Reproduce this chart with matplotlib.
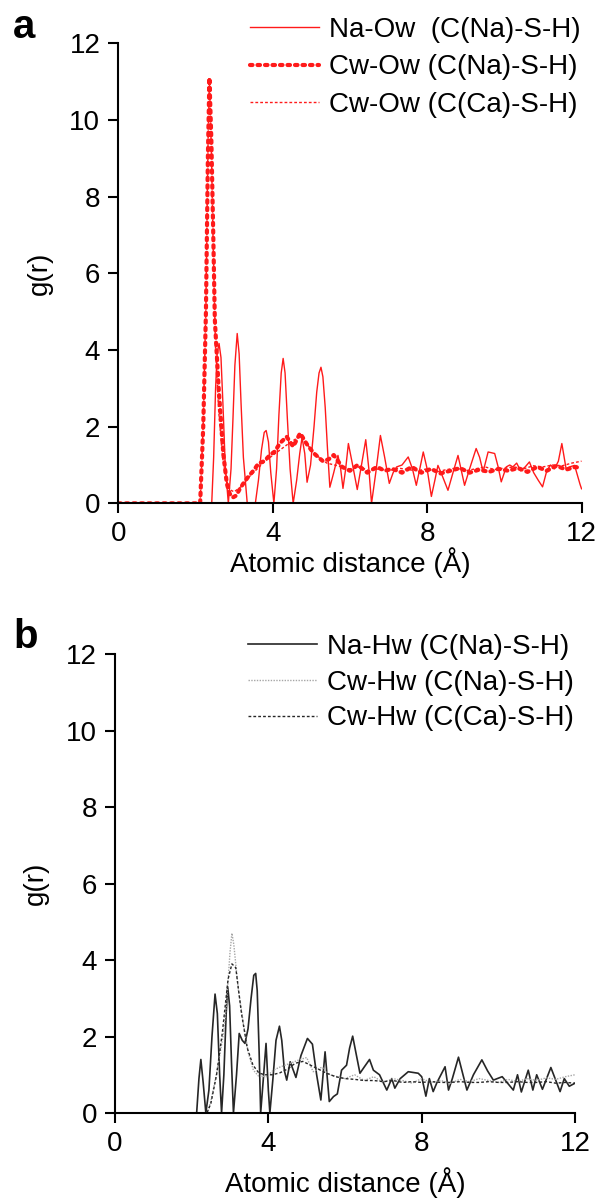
#!/usr/bin/env python3
"""Radial distribution functions, C(Na)-S-H vs C(Ca)-S-H."""
import matplotlib
matplotlib.use('Agg')
import matplotlib.pyplot as plt

plt.rcParams['font.family'] = ['Liberation Sans', 'DejaVu Sans']
plt.rcParams['font.size'] = 20

# ---- panel a : oxygen of water ----
na_ow_r = [0, 2.42, 2.47, 2.52, 2.56, 2.61, 2.66, 2.71, 2.77, 2.85, 2.92, 2.97, 3.02,
           3.08, 3.13, 3.18, 3.24, 3.34, 3.55, 3.63, 3.71, 3.78, 3.83, 3.89, 3.95, 4.03,
           4.1, 4.16, 4.22, 4.27, 4.32, 4.38, 4.45, 4.53, 4.62, 4.7, 4.76, 4.83, 4.89,
           4.98, 5.07, 5.14, 5.2, 5.25, 5.3, 5.36, 5.42, 5.48, 5.58, 5.69, 5.76, 5.82,
           5.89, 5.96, 6.07, 6.19, 6.3, 6.41, 6.49, 6.56, 6.67, 6.79, 6.9, 7.02, 7.12,
           7.21, 7.35, 7.51, 7.62, 7.72, 7.81, 7.9, 8.0, 8.11, 8.2, 8.28, 8.4, 8.54,
           8.67, 8.8, 8.97, 9.1, 9.27, 9.36, 9.45, 9.52, 9.58, 9.75, 9.84, 9.92, 10.05,
           10.14, 10.22, 10.32, 10.42, 10.54, 10.65, 10.76, 10.88, 10.99, 11.1, 11.2,
           11.3, 11.4, 11.49, 11.6, 11.69, 11.82, 11.96, 12.0]
na_ow_g = [0, 0, 1.2, 3.0, 3.9, 4.17, 3.8, 2.6, 1.0, 0, 0.9, 2.2, 3.6,
           4.43, 3.9, 2.6, 1.2, 0, 0, 0.6, 1.4, 1.85, 1.9, 1.6, 0.8, 0,
           0.9, 2.3, 3.4, 3.78, 3.4, 2.2, 0.9, 0, 0.6, 1.3, 1.72, 1.3, 0.55,
           1.0, 2.0, 2.9, 3.4, 3.55, 3.3, 2.5, 1.4, 0.42, 0.8, 1.25, 0.9, 0.39,
           0.9, 1.56, 1.0, 0.36, 1.0, 1.66, 0.9, 0, 0.8, 1.77, 1.2, 0.52, 0.8,
           0.95, 1.0, 1.21, 0.9, 0.47, 0.9, 1.34, 0.9, 0.18, 0.6, 0.99, 0.7, 0.34,
           0.8, 1.25, 0.47, 0.9, 1.43, 1.2, 0.82, 1.1, 1.34, 1.30, 0.95, 0.56, 0.95,
           1.0, 0.95, 1.05, 0.85, 0.95, 1.08, 0.8, 0.6, 0.43, 0.85, 1.0,
           0.9, 1.1, 1.56, 0.9, 0.95, 0.99, 0.5, 0.38]

cw_ow_na_r = [0, 2.12, 2.2, 2.27, 2.32, 2.36, 2.41, 2.46, 2.5, 2.55, 2.6, 2.72, 2.81,
              2.88, 2.96, 3.05, 3.15, 3.24, 3.37, 3.5, 3.63, 3.78, 3.93, 4.05, 4.19,
              4.36, 4.53, 4.71, 4.88, 5.06, 5.3, 5.45, 5.58, 5.8, 6.0, 6.2, 6.45, 6.7,
              6.9, 7.1, 7.35, 7.6, 7.85, 8.1, 8.35, 8.6, 8.85, 9.1, 9.35, 9.6, 9.85,
              10.1, 10.35, 10.6, 10.85, 11.1, 11.35, 11.6, 11.85, 12.0]
cw_ow_na_g = [0, 0, 2.0, 5.0, 9.0, 11.1, 9.5, 7.0, 4.8, 3.9, 3.0, 1.3, 0.52,
              0.26, 0.15, 0.2, 0.38, 0.52, 0.7, 0.85, 1.04, 1.1, 1.26, 1.35, 1.57,
              1.74, 1.48, 1.83, 1.55, 1.31, 1.1, 1.15, 1.26, 0.95, 0.85, 1.0, 0.8, 0.95,
              0.85, 0.9, 0.8, 0.95, 0.8, 0.9, 0.78, 0.85, 0.92, 0.8, 0.88, 0.82, 0.9,
              0.85, 0.92, 0.82, 0.95, 0.85, 0.98, 0.88, 0.95, 0.9]

cw_ow_ca_r = [0, 2.12, 2.2, 2.27, 2.32, 2.36, 2.41, 2.46, 2.52, 2.6, 2.7, 2.8, 2.9,
              3.0, 3.2, 3.4, 3.6, 3.8, 4.0, 4.2, 4.4, 4.55, 4.7, 4.85, 5.0, 5.2, 5.4,
              5.6, 5.8, 6.0, 6.25, 6.5, 6.75, 7.0, 7.25, 7.5, 7.75, 8.0, 8.25, 8.5,
              8.75, 9.0, 9.25, 9.5, 9.75, 10.0, 10.25, 10.5, 10.75, 11.0, 11.25, 11.5,
              11.75, 12.0]
cw_ow_ca_g = [0, 0, 2.1, 5.2, 9.2, 11.0, 9.2, 6.6, 4.0, 2.4, 1.2, 0.6, 0.35,
              0.3, 0.45, 0.7, 0.9, 1.1, 1.25, 1.4, 1.55, 1.65, 1.75, 1.6, 1.4, 1.2, 1.05,
              1.0, 0.95, 0.9, 0.95, 0.85, 0.9, 0.85, 0.92, 0.88, 0.85, 0.9, 0.82, 0.88,
              0.92, 0.85, 0.9, 0.95, 0.88, 0.92, 0.95, 0.9, 0.98, 0.95, 1.0, 0.98,
              1.05, 1.1]

# ---- panel b : hydrogen of water ----
na_hw_r = [0, 2.13, 2.19, 2.24, 2.3, 2.37, 2.45, 2.53, 2.61, 2.67, 2.73, 2.78, 2.84,
           2.9, 2.94, 2.99, 3.04, 3.09, 3.17, 3.24, 3.32, 3.39, 3.47, 3.55, 3.62, 3.67,
           3.71, 3.76, 3.8, 3.87, 3.94, 4.0, 4.04, 4.12, 4.2, 4.29, 4.35, 4.42, 4.48,
           4.57, 4.72, 4.85, 5.02, 5.15, 5.26, 5.37, 5.48, 5.59, 5.7, 5.8, 5.91, 6.04,
           6.12, 6.2, 6.28, 6.39, 6.5, 6.64, 6.74, 6.9, 7.09, 7.22, 7.3, 7.44, 7.65,
           7.91, 8.0, 8.11, 8.2, 8.3, 8.4, 8.61, 8.7, 8.8, 8.96, 9.18, 9.35, 9.57,
           9.72, 9.87, 10.1, 10.39, 10.5, 10.6, 10.78, 10.9, 11.0, 11.15, 11.37,
           11.61, 11.72, 11.85, 12.0]
na_hw_g = [0, 0, 0.9, 1.4, 0.8, 0, 0.6, 2.0, 3.11, 2.6, 1.0, 0, 1.0,
           2.6, 3.3, 2.8, 1.3, 0, 1.0, 2.08, 1.9, 1.82, 2.2, 3.0, 3.6, 3.65,
           3.2, 1.6, 0, 0.9, 1.82, 0.6, 0, 0.9, 1.9, 2.27, 1.9, 1.1, 0.86,
           1.34, 0.93, 1.5, 1.95, 1.8, 1.0, 0.34, 1.6, 0.3, 0.43, 0.5, 1.12, 1.25,
           1.7, 2.01, 1.6, 1.04, 1.2, 1.4, 1.12, 1.0, 0.6, 0.9, 0.65, 0.9, 1.08,
           1.04, 0.95, 0.44, 0.9, 0.56, 0.8, 1.21, 0.6, 0.9, 1.46, 0.6, 1.0, 1.39,
           1.1, 0.86, 0.95, 0.6, 1.0, 0.55, 1.12, 0.6, 1.0, 0.62, 1.19,
           0.56, 0.9, 0.7, 0.78]

cw_hw_na_r = [0, 2.4, 2.5, 2.65, 2.83, 2.91, 3.0, 3.05, 3.1, 3.22, 3.35, 3.48, 3.61,
              3.74, 3.96, 4.13, 4.3, 4.57, 4.83, 5.0, 5.17, 5.4, 5.6, 5.8, 6.0, 6.25,
              6.5, 6.75, 7.0, 7.25, 7.5, 7.75, 8.0, 8.25, 8.5, 8.75, 9.0, 9.25, 9.5,
              9.75, 10.0, 10.25, 10.5, 10.75, 11.0, 11.25, 11.5, 11.75, 12.0]
cw_hw_na_g = [0, 0, 0.3, 1.04, 2.08, 2.87, 4.2, 4.7, 4.4, 3.2, 2.34, 1.56, 1.12,
              0.97, 0.95, 1.12, 1.2, 1.3, 1.4, 1.45, 1.08, 1.2, 1.0, 0.95, 0.9, 1.0,
              0.85, 0.95, 0.8, 0.9, 0.85, 0.78, 0.9, 0.8, 0.85, 0.78, 0.88, 0.82, 0.9,
              0.85, 0.8, 0.88, 0.82, 0.9, 0.85, 0.92, 0.88, 0.95, 1.0]

cw_hw_ca_r = [0, 2.4, 2.5, 2.65, 2.8, 2.95, 3.05, 3.15, 3.3, 3.45, 3.6, 3.75, 3.9,
              4.1, 4.3, 4.5, 4.7, 4.9, 5.1, 5.3, 5.5, 5.75, 6.0, 6.25, 6.5, 6.75, 7.0,
              7.25, 7.5, 7.75, 8.0, 8.25, 8.5, 8.75, 9.0, 9.25, 9.5, 9.75, 10.0, 10.25,
              10.5, 10.75, 11.0, 11.25, 11.5, 11.75, 12.0]
cw_hw_ca_g = [0, 0, 0.25, 1.0, 2.1, 3.5, 3.9, 3.8, 2.6, 1.7, 1.25, 1.05, 1.0,
              1.0, 1.05, 1.15, 1.3, 1.35, 1.25, 1.15, 1.05, 0.95, 0.9, 0.88, 0.85, 0.85,
              0.82, 0.85, 0.8, 0.82, 0.8, 0.82, 0.8, 0.8, 0.82, 0.8, 0.8, 0.82, 0.8,
              0.8, 0.82, 0.8, 0.8, 0.82, 0.78, 0.8, 0.78]

fig = plt.figure(figsize=(6.03, 12.03), dpi=100)
ax_a = fig.add_axes([0.1962, 0.5816, 0.7682, 0.3824])
ax_b = fig.add_axes([0.1907, 0.0748, 0.7629, 0.3815])

ax_a.plot(na_ow_r, na_ow_g, '-', color='#ff1a1a', lw=1.0, label='Na-Ow  (C(Na)-S-H)')
ax_a.plot(cw_ow_na_r, cw_ow_na_g, color='#ff1a1a', lw=3.0, linestyle=(0, (0.6, 1.2)),
          dash_capstyle='round', label='Cw-Ow (C(Na)-S-H)')
ax_a.plot(cw_ow_ca_r, cw_ow_ca_g, color='#ff1a1a', lw=1.0, linestyle=(0, (2, 1.5)),
          label='Cw-Ow (C(Ca)-S-H)')

ax_b.plot(na_hw_r, na_hw_g, '-', color='#262626', lw=1.2, label='Na-Hw (C(Na)-S-H)')
ax_b.plot(cw_hw_na_r, cw_hw_na_g, color='#a6a6a6', lw=1.0, linestyle=(0, (1, 1)),
          label='Cw-Hw (C(Na)-S-H)')
ax_b.plot(cw_hw_ca_r, cw_hw_ca_g, color='#262626', lw=1.0, linestyle=(0, (2, 1.5)),
          label='Cw-Hw (C(Ca)-S-H)')

for ax in (ax_a, ax_b):
    ax.set_xlim(0, 12)
    ax.set_ylim(0, 12)
    ax.set_xticks([0, 4, 8, 12])
    ax.set_yticks(range(0, 13, 2))
    ax.spines['top'].set_visible(False)
    ax.spines['right'].set_visible(False)
    for s in ('left', 'bottom'):
        ax.spines[s].set_linewidth(1.5)
    ax.tick_params(direction='out', length=7, width=1.5, labelsize=20, pad=6)
    ax.set_ylabel('g(r)', fontsize=20, labelpad=12)
    ax.patch.set_alpha(0)

ax_a.set_xlabel('Atomic distance (Å)', fontsize=20, labelpad=0)
ax_b.set_xlabel('Atomic distance (Å)', fontsize=20, labelpad=7)

ax_a.legend(loc='upper left', bbox_to_anchor=(250 / 603, 1 - 17 / 1203),
            bbox_transform=fig.transFigure, frameon=False, fontsize=20,
            handlelength=2.5, handletextpad=0.35, labelspacing=0.41, borderpad=0,
            borderaxespad=0)
ax_b.legend(loc='upper left', bbox_to_anchor=(248 / 603, 1 - 634 / 1203),
            bbox_transform=fig.transFigure, frameon=False, fontsize=20,
            handlelength=2.5, handletextpad=0.35, labelspacing=0.35, borderpad=0,
            borderaxespad=0)

fig.text(13 / 603, 1 - 8 / 1203, 'a', fontsize=29, fontweight='bold', va='top')
fig.text(13 / 603, 1 - 618 / 1203, 'b', fontsize=29, fontweight='bold', va='top')

fig.savefig('out.png', dpi=100)
